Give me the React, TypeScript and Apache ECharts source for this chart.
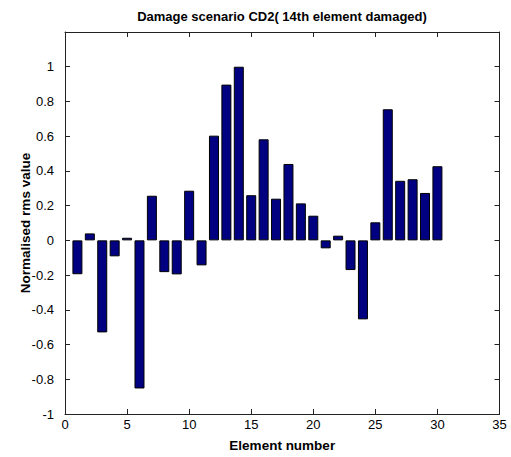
import React, { useEffect, useRef } from "react";
import * as echarts from "echarts";

const elements = [1,2,3,4,5,6,7,8,9,10,11,12,13,14,15,16,17,18,19,20,21,22,23,24,25,26,27,28,29,30];
const rmsValues = [-0.195,0.04,-0.53,-0.092,0.015,-0.853,0.257,-0.183,-0.196,0.286,-0.144,0.603,0.897,1.0,0.26,0.582,0.24,0.44,0.213,0.142,-0.046,0.027,-0.171,-0.455,0.104,0.755,0.343,0.352,0.273,0.427];
const xTicks = { min: 0, max: 35, interval: 5 };
const yTicks = { min: -1, max: 1.2, interval: 0.2 };

const FONT = "'Liberation Sans Narrow', 'Liberation Sans', Arial, sans-serif";

export default function App() {
  const ref = useRef<HTMLDivElement>(null);
  useEffect(() => {
    const chart = echarts.init(ref.current!, null, { renderer: "svg" });
    const lineStyle = { color: "#222", width: 1 };
    const fmtY = (v: number) => (v > 1.1 ? "" : String(Math.round(v * 10) / 10));
    chart.setOption({
      animation: false,
      backgroundColor: "#fff",
      grid: { left: 65, right: 11.5, top: 32, bottom: 43 },
      graphic: [
        {
          type: "text",
          x: 282,
          y: 16,
          style: {
            text: "Damage scenario CD2( 14th element damaged)",
            font: `bold 13px ${FONT}`,
            fill: "#000",
            align: "center",
            verticalAlign: "middle",
          },
        },
      ],
      xAxis: [
        {
          type: "value",
          position: "bottom",
          ...xTicks,
          name: "Element number",
          nameLocation: "middle",
          nameGap: 24,
          nameMoveOverlap: false,
          nameTextStyle: { fontFamily: FONT, fontWeight: "bold", fontSize: 13.5, color: "#000" },
          axisLine: { show: true, onZero: false, lineStyle },
          axisTick: { show: true, inside: true, length: 5, lineStyle },
          axisLabel: { fontFamily: FONT, fontSize: 13, color: "#000", margin: 4 },
          splitLine: { show: false },
        },
        {
          type: "value",
          position: "top",
          ...xTicks,
          axisLine: { show: true, onZero: false, lineStyle },
          axisTick: { show: true, inside: true, length: 5, lineStyle },
          axisLabel: { show: false },
          splitLine: { show: false },
        },
      ],
      yAxis: [
        {
          type: "value",
          position: "left",
          ...yTicks,
          name: "Normalised rms value",
          nameLocation: "middle",
          nameGap: 33,
          nameMoveOverlap: false,
          nameTextStyle: { fontFamily: FONT, fontWeight: "bold", fontSize: 13.5, color: "#000" },
          axisLine: { show: true, onZero: false, lineStyle },
          axisTick: { show: true, inside: true, length: 5, lineStyle },
          axisLabel: { fontFamily: FONT, fontSize: 13, color: "#000", margin: 11, formatter: fmtY },
          splitLine: { show: false },
        },
        {
          type: "value",
          position: "right",
          ...yTicks,
          axisLine: { show: true, onZero: false, lineStyle },
          axisTick: { show: true, inside: true, length: 5, lineStyle },
          axisLabel: { show: false },
          splitLine: { show: false },
        },
      ],
      series: [
        {
          type: "bar",
          xAxisIndex: 0,
          yAxisIndex: 0,
          data: elements.map((e, i) => [e, rmsValues[i]]),
          barWidth: 10,
          itemStyle: { color: "#000080", borderColor: "#000", borderWidth: 1 },
        },
      ],
    });
    return () => chart.dispose();
  }, []);
  return (
    <div
      ref={ref}
      style={{ position: "absolute", left: 0, top: 0, width: 511, height: 457 }}
    />
  );
}
